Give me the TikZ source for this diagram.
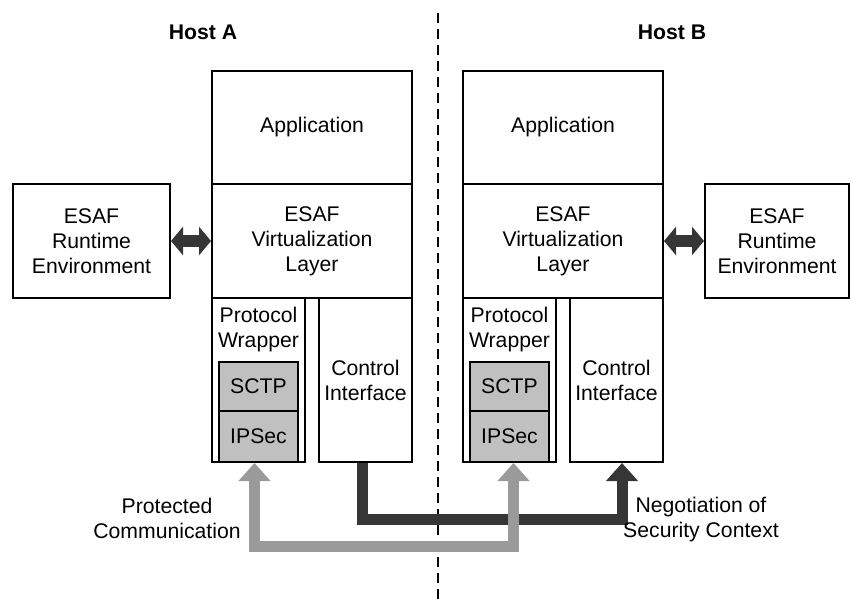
\documentclass[tikz,border=0pt]{standalone}
\usepackage{fontspec}
\setmainfont{Liberation Sans}
\usetikzlibrary{arrows.meta}
\definecolor{darkarr}{HTML}{363636}
\definecolor{grayarr}{HTML}{9A9A9A}
\definecolor{protofill}{HTML}{C0C0C0}
\tikzset{
  box/.style={draw=black, line width=2pt, rectangle, inner sep=0pt, align=center, fill=white},
  protobox/.style={box, fill=protofill},
  plain/.style={inner sep=0pt, align=center},
  hostlabel/.style={inner sep=0pt, font=\bfseries},
  divider/.style={line width=2pt, dash pattern=on 10pt off 6pt},
  darkflow/.style={draw=darkarr, line width=11pt, line join=miter, -{Triangle[width=31pt,length=18pt]}},
  grayflow/.style={draw=grayarr, line width=11pt, line join=miter, {Triangle[width=31pt,length=18pt]}-{Triangle[width=31pt,length=18pt]}},
  sideflow/.style={draw=darkarr, line width=12pt, {Triangle[width=28pt,length=12pt]}-{Triangle[width=28pt,length=12pt]}}
}
\begin{document}
\begin{tikzpicture}[x=1pt,y=-1pt]
\useasboundingbox (0,0) rectangle (851,599);
\fontsize{21.2}{25}\selectfont

% divider
\coordinate (divtop) at (438,13);
\coordinate (divbot) at (438,599);
\draw[divider] (divtop) -- (divbot);

% host labels
\node[hostlabel] (hostA) at (203,32) {Host A};
\node[hostlabel] (hostB) at (672,32) {Host B};

% Host A
\node[box, minimum width=200pt, minimum height=113pt] (appA) at (312,127.5) {Application};
\node[box, minimum width=200pt, minimum height=114pt] (virtA) at (312,241) {ESAF\\Virtualization\\Layer};
\node[box, minimum width=93pt, minimum height=164pt] (wrapA) at (258.5,380) {};
\node[plain] (wrapAtxt) at (258.5,330) {Protocol\\Wrapper};
\node[box, minimum width=93pt, minimum height=164pt] (ctlA) at (365.5,380) {Control\\Interface};
\node[protobox, minimum width=79pt, minimum height=49pt] (sctpA) at (258.5,386.5) {SCTP};
\node[protobox, minimum width=79pt, minimum height=51pt] (ipA) at (258.5,436.5) {IPSec};
\node[box, minimum width=157pt, minimum height=114pt] (rtA) at (91.5,241) {ESAF\\Runtime\\Environment};

% Host B
\node[box, minimum width=200pt, minimum height=113pt] (appB) at (563,127.5) {Application};
\node[box, minimum width=200pt, minimum height=114pt] (virtB) at (563,241) {ESAF\\Virtualization\\Layer};
\node[box, minimum width=93pt, minimum height=164pt] (wrapB) at (509.5,380) {};
\node[plain] (wrapBtxt) at (509.5,330) {Protocol\\Wrapper};
\node[box, minimum width=93pt, minimum height=164pt] (ctlB) at (616.5,380) {Control\\Interface};
\node[protobox, minimum width=79pt, minimum height=49pt] (sctpB) at (509.5,386.5) {SCTP};
\node[protobox, minimum width=79pt, minimum height=51pt] (ipB) at (509.5,436.5) {IPSec};
\node[box, minimum width=144pt, minimum height=114pt] (rtB) at (777,241) {ESAF\\Runtime\\Environment};

% side arrows
\draw[sideflow] (rtA.east) -- (virtA.west);
\draw[sideflow] (virtB.east) -- (rtB.west);

% flows
\draw[darkflow] ([xshift=-3pt]ctlA.south) -- ++(0,56) -| ([xshift=5.5pt]ctlB.south);
\draw[grayflow] ([xshift=-4pt]ipA.south) -- ++(0,83) -| ([xshift=4pt]ipB.south);

% labels
\node[plain] (protlbl) at (167,518) {Protected\\Communication};
\node[plain] (negolbl) at (701,520) {Negotiation of\\Security Context};
\end{tikzpicture}
\end{document}
